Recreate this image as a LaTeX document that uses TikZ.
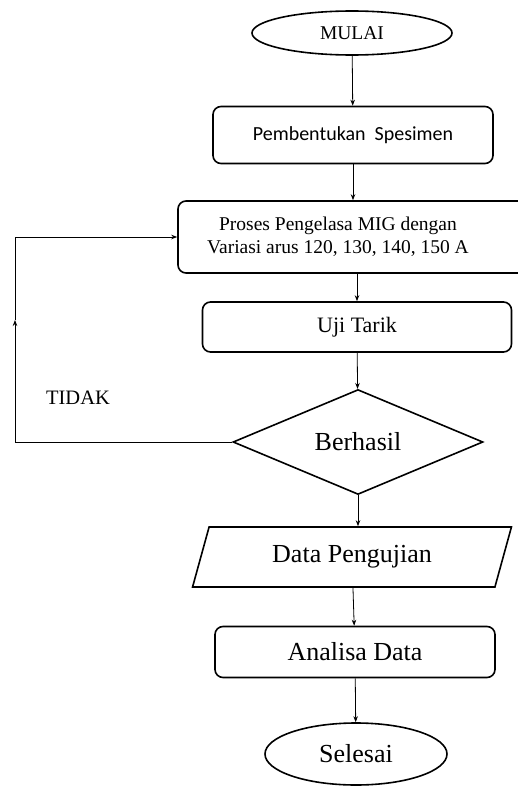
\documentclass[tikz,border=0pt]{standalone}
\usepackage{fontspec}
\setmainfont{Liberation Serif}
\newfontfamily\carlito{Carlito}
\usetikzlibrary{shapes.geometric,arrows.meta}
\tikzset{>={Stealth[length=6pt,width=4.5pt]}}

\begin{document}
\begin{tikzpicture}[x=1pt,y=-1pt,
    terminal/.style={ellipse,draw,line width=1.6pt,inner sep=0pt},
    stepbox/.style={rectangle,rounded corners=8pt,draw,line width=1.6pt,inner sep=0pt},
    decision/.style={diamond,draw,line width=1.6pt,inner sep=0pt},
    dataio/.style={trapezium,trapezium left angle=68,trapezium right angle=112,
        trapezium stretches=true,draw,line width=1.6pt,inner sep=0pt},
    flow/.style={->,line width=0.8pt}]
    \useasboundingbox (0,0) rectangle (518,792);

    \node[terminal,minimum width=200pt,minimum height=44pt,font=\fontsize{19.5}{22}\selectfont] (mulai) at (352,33) {MULAI};
    \node[stepbox,minimum width=280pt,minimum height=57pt,font=\carlito\fontsize{20}{22}\selectfont] (bentuk) at (353,135) {Pembentukan\ \ Spesimen};
    \node[stepbox,minimum width=358pt,minimum height=72pt] (proses) at (357,237) {};
    \node[align=center,font=\fontsize{19.5}{23}\selectfont] (proseslbl) at (338,237) {Proses Pengelasa MIG dengan\\Variasi arus 120, 130, 140, 150 A};
    \node[stepbox,minimum width=309pt,minimum height=50pt,font=\fontsize{22}{24}\selectfont] (uji) at (357,327) {Uji Tarik};
    \node[decision,minimum width=250pt,minimum height=92pt,font=\fontsize{26}{28}\selectfont] (berhasil) at (358,442) {Berhasil};
    \node[dataio,minimum width=319pt,minimum height=60pt,font=\fontsize{26}{28}\selectfont] (data) at (352,557) {Data Pengujian};
    \node[stepbox,minimum width=280pt,minimum height=51pt,font=\fontsize{26}{28}\selectfont] (analisa) at (355,652) {Analisa Data};
    \node[terminal,minimum width=182pt,minimum height=62pt,font=\fontsize{26}{28}\selectfont] (selesai) at (356,754) {Selesai};
    \node[font=\fontsize{20.5}{22}\selectfont] (tidak) at (78,398) {TIDAK};

    \coordinate (loopbot) at (15,442);
    \coordinate (looptip) at (15,320);
    \coordinate (looptop) at (15,237);

    \draw[flow] (mulai) -- (bentuk);
    \draw[flow] (bentuk) -- (bentuk |- proses.north);
    \draw[flow] (uji |- proses.south) -- (uji);
    \draw[flow] (uji) -- (berhasil);
    \draw[flow] (berhasil.south) -- (berhasil.south |- data.north);
    \draw[flow] (data) -- (analisa);
    \draw[flow] (analisa) -- (selesai);
    \draw[flow] (berhasil.west) -- (loopbot) -- (looptip);
    \draw[flow] (looptip) -- (looptop) -- (proses.west);
\end{tikzpicture}
\end{document}
